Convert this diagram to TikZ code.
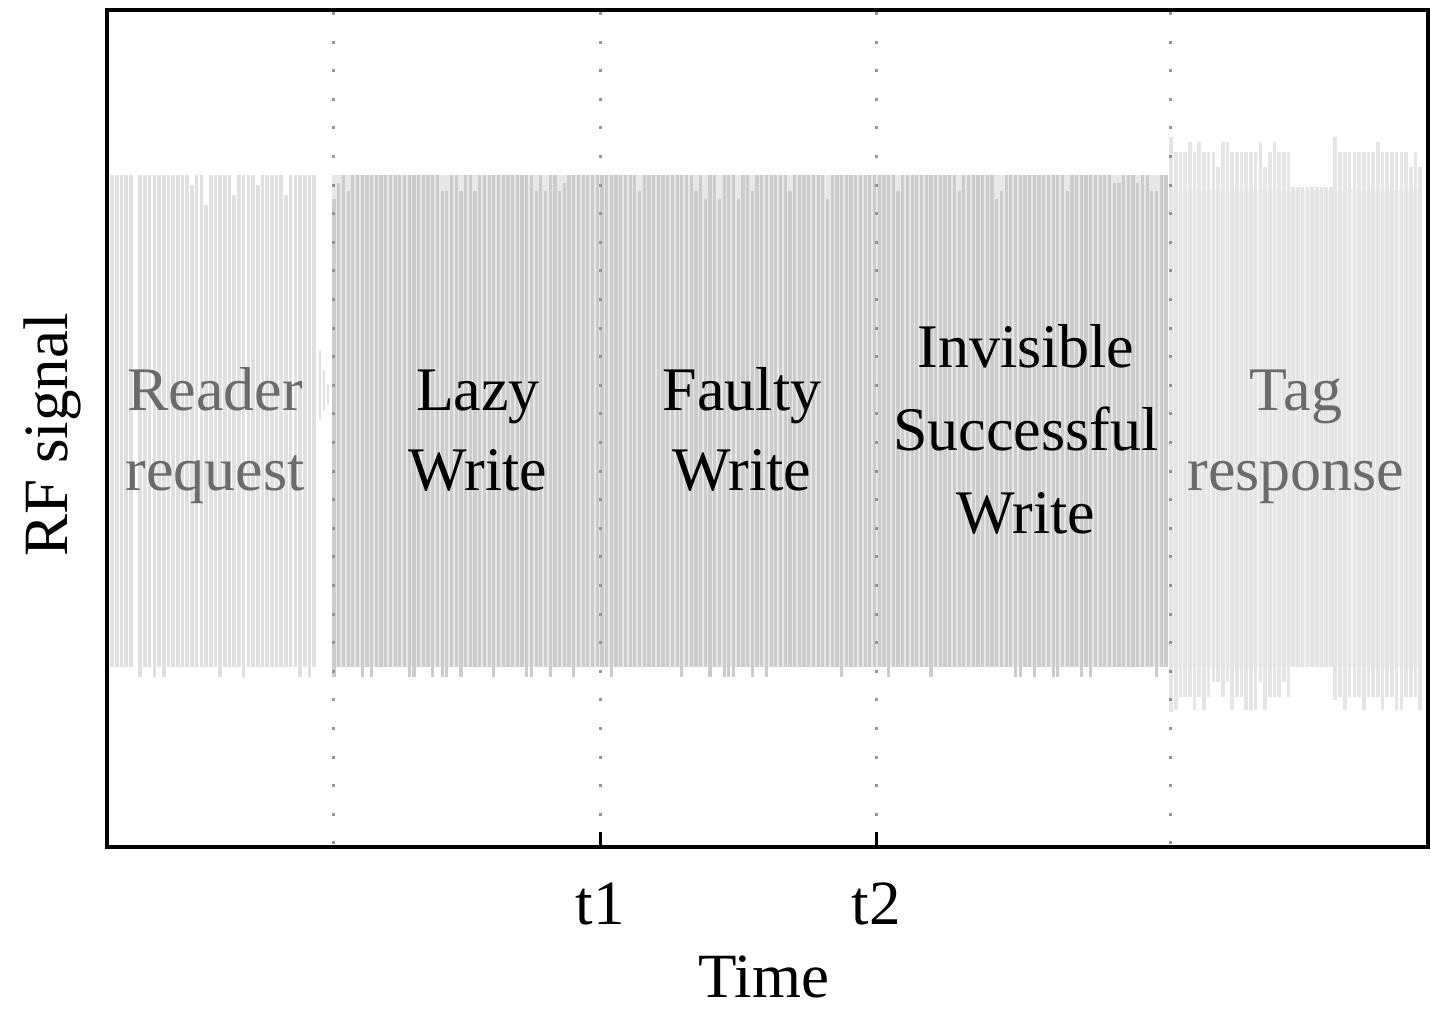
\documentclass[tikz,border=0pt]{standalone}
\usepackage{fontspec}
\setmainfont{Liberation Serif}
\begin{document}
\begin{tikzpicture}[x=0.5pt,y=-0.5pt,
  sigA/.style={draw=black!12,line width=1.8pt},
  sigB/.style={draw=black!20,line width=1.6pt},
  sigC/.style={draw=black!10,line width=1.8pt},
  divider/.style={draw=black!42,line width=1.5pt,dash pattern=on 1.5pt off 12.8pt},
  frame/.style={draw=black,line width=2pt},
  tickmark/.style={draw=black,line width=1.5pt},
  region/.style={inner sep=0pt,align=center,font=\fontsize{31}{40}\selectfont},
  regionthree/.style={inner sep=0pt,align=center,font=\fontsize{31}{41.5}\selectfont},
  axis/.style={inner sep=0pt,font=\fontsize{31.5}{38}\selectfont}]
\useasboundingbox (0,0) rectangle (1431,1009);
\pgfmathsetseed{11}
% region A: reader request
\foreach \i in {0,...,43}{
  \ifnum\i=5\relax\else
  \pgfmathsetmacro\xx{112+4.7*\i}
  \pgfmathsetmacro\tp{rnd<0.75 ? 175 : 175+round(1+rnd*2)*10}
  \pgfmathsetmacro\bt{rnd<0.75 ? 667 : 677}
  \draw[sigA] (\xx,\tp) -- (\xx,\bt);
  \fi
}
\foreach \xx/\a/\b in {320/350/420,324/370/410,328/385/405}{
  \draw[sigA,line width=1pt] (\xx,\a) -- (\xx,\b);
}
% region B: writes
\fill[black!9] (332,175) rectangle (1168,667);
\foreach \i in {0,...,177}{
  \pgfmathsetmacro\xx{334+4.7*\i}
  \pgfmathsetmacro\tp{rnd<0.8 ? 175 : 175+round(1+rnd*2)*8}
  \pgfmathsetmacro\bt{rnd<0.8 ? 667 : 677}
  \draw[sigB] (\xx,\tp) -- (\xx,\bt);
}
% region C: tag response
\fill[black!5] (1169,190) rectangle (1422,667);
\foreach \i in {0,...,53}{
  \pgfmathsetmacro\xx{1171+4.7*\i}
  \pgfmathsetmacro\tp{(\xx>1290 && \xx<1333) ? 187 : (rnd<0.6 ? 152 : (rnd<0.5 ? 142 : 167))}
  \pgfmathsetmacro\bt{(\xx>1290 && \xx<1333) ? 667 : (rnd<0.6 ? 697 : (rnd<0.5 ? 710 : 682))}
  \draw[sigC] (\xx,\tp) -- (\xx,\bt);
}
\draw[sigC] (1171,137) -- (1171,712);
\draw[sigC] (1335,137) -- (1335,700);
% dividers
\coordinate (d1t) at (333,12); \coordinate (d1b) at (333,845);
\coordinate (d2t) at (600,12); \coordinate (d2b) at (600,845);
\coordinate (d3t) at (876,12); \coordinate (d3b) at (876,845);
\coordinate (d4t) at (1170,12); \coordinate (d4b) at (1170,845);
\draw[divider] (d1t) -- (d1b);
\draw[divider] (d2t) -- (d2b);
\draw[divider] (d3t) -- (d3b);
\draw[divider] (d4t) -- (d4b);
% frame and ticks
\coordinate (tl) at (107,10); \coordinate (br) at (1428,847);
\draw[frame] (tl) rectangle (br);
\coordinate (k1) at (600,832); \coordinate (k2) at (876,832);
\draw[tickmark] (k1) -- (600,846);
\draw[tickmark] (k2) -- (876,846);
% labels
\node[region,text=black!58,anchor=base] (reader) at (215,490) {Reader\\request};
\node[region,anchor=base] (lazy) at (478,490) {Lazy\\Write};
\node[region,anchor=base] (faulty) at (742,490) {Faulty\\Write};
\node[regionthree,anchor=base] (invisible) at (1026,533) {Invisible\\Successful\\Write};
\node[region,text=black!58,anchor=base] (tag) at (1296,490) {Tag\\response};
\node[axis,anchor=base] (t1) at (600,924) {t1};
\node[axis,anchor=base] (t2) at (876,924) {t2};
\node[axis,anchor=base] (time) at (764,997) {Time};
\node[axis,rotate=90,anchor=base] (rf) at (68,435) {RF signal};
\end{tikzpicture}
\end{document}
